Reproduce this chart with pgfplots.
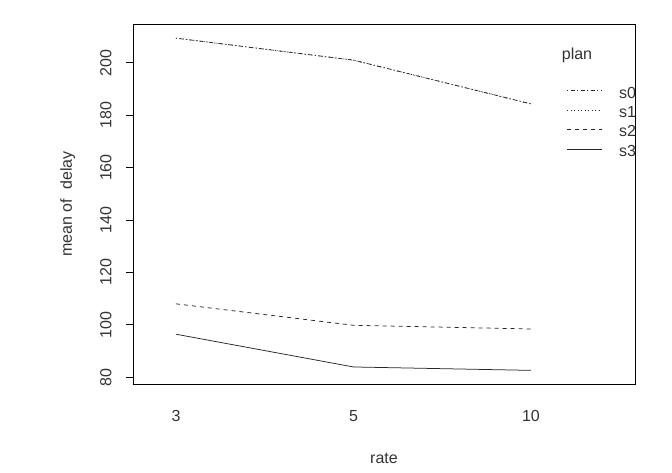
\documentclass[border=0pt]{standalone}
\usepackage{fontspec}
\setmainfont{Liberation Sans}
\usepackage{pgfplots}
\pgfplotsset{compat=1.18}
\begin{document}
\fontsize{16}{18}\selectfont
\begin{tikzpicture}[x=1pt,y=1pt]
\useasboundingbox (0,0) rectangle (672,473);
\begin{axis}[
  name=ax,
  at={(133pt,89pt)}, anchor=south west,
  width=502pt, height=360pt, scale only axis,
  xmin=0.758, xmax=3.586, ymin=77.4, ymax=214.8,
  axis line style={black, line width=0.8pt},
  xtick={1,2,3}, xticklabels={3,5,10},
  ytick={80,100,...,200},
  ytick pos=left,
  tick align=outside,
  x tick style={draw=none},
  y tick style={black, line width=0.8pt},
  major tick length=7pt,
  /pgf/number format/assume math mode=true,
  ticklabel style={font=\fontsize{16}{18}\selectfont, text=black!80},
  yticklabel style={rotate=90, anchor=south, yshift=9pt},
  xticklabel style={yshift=-14pt},
  xlabel={rate}, ylabel={mean of\ \ delay},
  label style={font=\fontsize{16}{18}\selectfont, text=black!80},
  xlabel style={yshift=-20pt},
  ylabel style={yshift=14pt},
  clip=true,
]
\addplot[black!85, line width=0.75pt, dash pattern=on 1pt off 2.5pt on 4pt off 2.5pt] coordinates {(1,209.4) (2,201.0) (3,184.3)};
\addplot[black!85, line width=0.75pt, dash pattern=on 1pt off 2.5pt] coordinates {(1,209.4) (2,201.0) (3,184.3)};
\addplot[black!85, line width=0.75pt, dash pattern=on 4pt off 4pt] coordinates {(1,108.0) (2,99.8) (3,98.4)};
\addplot[black!85, line width=0.75pt] coordinates {(1,96.4) (2,83.9) (3,82.6)};
\end{axis}
\begin{scope}
\clip (0,0) rectangle (635,473);
\node[font=\fontsize{16}{18}\selectfont, text=black!80] at (577,418) {plan};
\draw[black!85, line width=0.75pt, dash pattern=on 1pt off 2.5pt on 4pt off 2.5pt] (567,382.3) -- (602,382.3);
\draw[black!85, line width=0.75pt, dash pattern=on 1pt off 2.5pt] (567,363) -- (602,363);
\draw[black!85, line width=0.75pt, dash pattern=on 4pt off 4pt] (567,343.7) -- (602,343.7);
\draw[black!85, line width=0.75pt] (567,324) -- (602,324);
\node[font=\fontsize{16}{18}\selectfont, text=black!80, anchor=west, inner sep=0pt] at (619,380) {s0};
\node[font=\fontsize{16}{18}\selectfont, text=black!80, anchor=west, inner sep=0pt] at (619,361) {s1};
\node[font=\fontsize{16}{18}\selectfont, text=black!80, anchor=west, inner sep=0pt] at (619,342) {s2};
\node[font=\fontsize{16}{18}\selectfont, text=black!80, anchor=west, inner sep=0pt] at (619,322.5) {s3};
\end{scope}
\draw[black, line width=0.8pt] (ax.south east) -- (ax.north east);
\end{tikzpicture}
\end{document}
